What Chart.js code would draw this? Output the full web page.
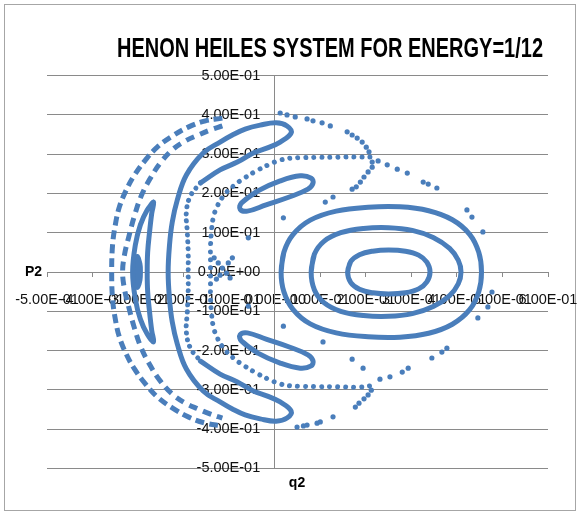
<!DOCTYPE html>
<html>
<head>
<meta charset="utf-8">
<script src="https://cdn.jsdelivr.net/npm/chart.js@4/dist/chart.umd.min.js"></script>
<style>
  html, body { margin: 0; padding: 0; background: #fff; }
  #wrap { width: 580px; height: 512px; position: relative; }
</style>
</head>
<body>
<div id="wrap"><canvas id="c" width="580" height="512"></canvas></div>
<script>
// Henon-Heiles surface of section (q2, p2), E = 1/12

const TITLE = 'HENON HEILES SYSTEM FOR ENERGY=1/12';
const X_TITLE = 'q2';
const Y_TITLE = 'P2';

const xTickLabels = ['-5.00E-01','-4.00E-01','-3.00E-01','-2.00E-01','-1.00E-01','0.00E+00',
                     '1.00E-01','2.00E-01','3.00E-01','4.00E-01','5.00E-01','6.00E-01'];
const yTickLabels = ['-5.00E-01','-4.00E-01','-3.00E-01','-2.00E-01','-1.00E-01','0.00E+00',
                     '1.00E-01','2.00E-01','3.00E-01','4.00E-01','5.00E-01'];

// right island: three nested tori
const rightInner = [[0.160,0.000],[0.167,0.027],[0.186,0.044],[0.215,0.053],[0.250,0.056],[0.287,0.053],
  [0.316,0.043],[0.334,0.025],[0.341,0.000],[0.334,-0.025],[0.316,-0.043],[0.287,-0.053],[0.250,-0.056],
  [0.215,-0.053],[0.186,-0.044],[0.167,-0.027],[0.160,0.000],[0.167,0.027]];

const rightMiddle = [[0.080,0.000],[0.087,0.045],[0.108,0.078],[0.145,0.100],[0.195,0.111],[0.250,0.113],
  [0.302,0.106],[0.348,0.088],[0.384,0.060],[0.403,0.030],[0.409,0.000],[0.403,-0.030],[0.384,-0.060],
  [0.348,-0.088],[0.302,-0.106],[0.250,-0.113],[0.195,-0.111],[0.145,-0.100],[0.108,-0.078],
  [0.087,-0.045],[0.080,0.000],[0.087,0.045]];

const rightOuter = [[0.014,0.000],[0.020,0.050],[0.040,0.095],[0.078,0.132],[0.135,0.155],[0.205,0.165],
  [0.275,0.166],[0.338,0.156],[0.390,0.133],[0.428,0.096],[0.448,0.050],[0.454,0.000],[0.448,-0.050],
  [0.428,-0.096],[0.390,-0.133],[0.338,-0.156],[0.275,-0.166],[0.205,-0.165],[0.135,-0.155],
  [0.078,-0.132],[0.040,-0.095],[0.020,-0.050],[0.014,0.000],[0.020,0.050]];

// small islands above and below the origin
const topIsland = [[-0.073,0.176],[-0.038,0.206],[0.012,0.232],[0.056,0.245],[0.080,0.239],[0.084,0.226],
  [0.073,0.211],[0.032,0.191],[-0.019,0.171],[-0.060,0.155],[-0.076,0.160],[-0.073,0.176],[-0.038,0.206]];
const bottomIsland = [[-0.073,-0.176],[-0.038,-0.206],[0.012,-0.232],[0.056,-0.245],[0.080,-0.239],[0.084,-0.226],
  [0.073,-0.211],[0.032,-0.191],[-0.019,-0.171],[-0.060,-0.155],[-0.076,-0.160],[-0.073,-0.176],[-0.038,-0.206]];

// left island: crescent and its core
const crescent = [[-0.266,0.178],[-0.280,0.158],[-0.295,0.120],[-0.306,0.069],[-0.312,0.000],[-0.306,-0.069],
  [-0.295,-0.120],[-0.280,-0.158],[-0.266,-0.178],[-0.270,-0.150],[-0.275,-0.100],[-0.279,-0.050],
  [-0.280,0.000],[-0.279,0.050],[-0.275,0.100],[-0.270,0.150],[-0.266,0.178],[-0.280,0.158]];
const leftCore = [[-0.302,0.038],[-0.297,0.020],[-0.296,0.000],[-0.297,-0.020],[-0.302,-0.038],
  [-0.307,-0.020],[-0.308,0.000],[-0.307,0.020],[-0.302,0.038],[-0.297,0.020]];

// hooked orbit: back-run from the upper hook, top run, left side, bottom run, lower hook
const hookLoop = [[-0.163,0.227],[-0.120,0.260],[-0.082,0.280],[-0.047,0.303],[-0.016,0.316],[0.012,0.331],
  [0.036,0.354],[0.027,0.372],[0.003,0.380],[-0.032,0.374],[-0.065,0.364],[-0.093,0.349],[-0.120,0.331],
  [-0.157,0.303],[-0.194,0.247],[-0.214,0.183],[-0.225,0.127],[-0.231,0.069],[-0.234,0.000],
  [-0.231,-0.069],[-0.225,-0.127],[-0.214,-0.183],[-0.194,-0.247],[-0.157,-0.303],[-0.120,-0.331],
  [-0.093,-0.349],[-0.065,-0.364],[-0.032,-0.374],[0.003,-0.380],[0.027,-0.372],[0.036,-0.354],
  [0.012,-0.331],[-0.016,-0.316],[-0.047,-0.303],[-0.082,-0.280],[-0.120,-0.260],[-0.163,-0.227]];

// the same orbit's sparser inner side
const innerArc = [[-0.163,0.227],[-0.185,0.194],[-0.194,0.153],[-0.192,0.102],[-0.190,0.051],[-0.190,0.000],
  [-0.190,-0.051],[-0.192,-0.102],[-0.194,-0.153],[-0.185,-0.194],[-0.163,-0.227]];

// separatrix: dotted path from the upper saddle round the left side to the lower saddle
const separatrix = [[0.209,0.293],[0.188,0.293],[0.155,0.293],[0.122,0.292],[0.091,0.292],[0.056,0.291],
  [0.034,0.290],[0.012,0.285],[-0.014,0.273],[-0.041,0.257],[-0.067,0.239],[-0.091,0.219],[-0.111,0.196],
  [-0.126,0.168],[-0.135,0.138],[-0.139,0.102],[-0.141,0.066],[-0.141,0.031],[-0.141,0.000],
  [-0.141,-0.031],[-0.141,-0.066],[-0.139,-0.102],[-0.135,-0.138],[-0.126,-0.168],[-0.111,-0.196],
  [-0.091,-0.219],[-0.067,-0.239],[-0.041,-0.257],[-0.014,-0.273],[0.012,-0.285],[0.034,-0.290],
  [0.056,-0.291],[0.091,-0.292],[0.122,-0.292],[0.155,-0.293],[0.188,-0.293],[0.209,-0.290]];

// outermost broken orbits on the left
const outerDash1 = [[-0.115,0.392],[-0.152,0.385],[-0.190,0.369],[-0.225,0.346],[-0.258,0.318],[-0.284,0.285],
  [-0.308,0.247],[-0.326,0.209],[-0.341,0.166],[-0.350,0.120],[-0.356,0.069],[-0.358,0.000],[-0.356,-0.069],
  [-0.350,-0.120],[-0.341,-0.166],[-0.326,-0.209],[-0.308,-0.247],[-0.284,-0.285],[-0.258,-0.318],
  [-0.225,-0.346],[-0.190,-0.369],[-0.152,-0.385],[-0.115,-0.392]];
const outerDash2 = [[-0.115,0.372],[-0.141,0.362],[-0.168,0.349],[-0.196,0.334],[-0.225,0.311],[-0.251,0.278],
  [-0.273,0.239],[-0.293,0.194],[-0.308,0.143],[-0.321,0.087],[-0.330,0.043],[-0.334,0.000],[-0.330,-0.043],
  [-0.321,-0.087],[-0.308,-0.143],[-0.293,-0.194],[-0.273,-0.239],[-0.251,-0.278],[-0.225,-0.311],
  [-0.196,-0.334],[-0.168,-0.349],[-0.141,-0.362],[-0.115,-0.372]];

// scattered points of the chaotic orbit
const chaos = [
  [0.012,0.405],[0.027,0.400],[0.045,0.395],[0.071,0.390],[0.084,0.385],[0.104,0.380],[0.122,0.372],
  [0.159,0.357],[0.170,0.349],[0.181,0.341],[0.192,0.331],[0.201,0.318],[0.207,0.306],
  [0.214,0.280],[0.214,0.267],[0.205,0.255],[0.196,0.242],[0.188,0.229],[0.179,0.217],[0.170,0.211],
  [0.227,0.283],[0.247,0.273],[0.269,0.262],[0.291,0.252],[0.326,0.229],[0.337,0.224],[0.356,0.214],
  [0.422,0.158],[0.433,0.140],[0.457,0.102],
  [0.477,-0.051],[0.468,-0.089],[0.446,-0.117],
  [0.378,-0.194],[0.367,-0.204],[0.345,-0.219],[0.293,-0.245],[0.280,-0.255],[0.253,-0.267],[0.231,-0.273],
  [0.212,-0.301],[0.205,-0.313],[0.196,-0.323],[0.185,-0.334],[0.177,-0.344],
  [0.194,-0.245],[0.170,-0.222],[0.106,-0.178],
  [0.111,0.178],[0.128,0.191],[0.019,0.138],[-0.058,0.087],[0.019,-0.138],[-0.058,-0.087],
  [0.049,-0.395],[0.063,-0.392],[0.071,-0.390],[0.093,-0.385],[0.100,-0.382],[0.128,-0.369],
  [-0.133,0.036],[-0.124,0.023],[-0.115,0.010],[-0.106,-0.003],[-0.098,-0.015],
  [-0.128,-0.018],[-0.120,-0.008],[-0.102,0.023],[-0.093,0.036]
];

const BLUE = '#4a7ebb';
const GRID = '#8a8a8a';
const TICK_FONT = { family: '"Liberation Sans Narrow", "Liberation Sans", Arial, sans-serif', size: 14.5 };
// gap kept between the value axis line and its labels
const Y_LABEL_GAP = '\u2002\u2002';

function solid(data) {
  return { data, showLine: true, borderColor: BLUE, borderWidth: 5, pointRadius: 0,
           tension: 0.4, borderCapStyle: 'round', borderJoinStyle: 'round', fill: false };
}
function dotted(data, gap) {
  return Object.assign(solid(data), { borderDash: [0.01, gap] });
}
function dashed(data, dash, gap) {
  return Object.assign(solid(data), { borderDash: [dash, gap], borderCapStyle: 'butt' });
}
function dots(data) {
  return { data, showLine: false, pointRadius: 2.6, pointBackgroundColor: BLUE,
           pointBorderWidth: 0, pointHoverRadius: 2.6 };
}

const decor = {
  id: 'decor',
  beforeDraw(chart) {
    const ctx = chart.ctx;
    ctx.save();
    ctx.fillStyle = '#fff';
    ctx.fillRect(0, 0, chart.width, chart.height);
    ctx.strokeStyle = '#a6a6a6';
    ctx.lineWidth = 1;
    ctx.strokeRect(4.5, 4.5, 571, 506);
    ctx.restore();
  },
  afterDraw(chart) {
    const ctx = chart.ctx;
    ctx.save();
    ctx.fillStyle = '#000';
    ctx.font = 'bold 27px "Liberation Sans Narrow", "Liberation Sans", Arial, sans-serif';
    ctx.textBaseline = 'alphabetic';
    ctx.textAlign = 'left';
    const w = ctx.measureText(TITLE).width;
    ctx.translate(117, 57);
    ctx.scale(426 / w, 1);
    ctx.fillText(TITLE, 0, 0);
    ctx.restore();

    ctx.save();
    ctx.fillStyle = '#000';
    ctx.font = 'bold 14px "Liberation Sans Narrow", "Liberation Sans", Arial, sans-serif';
    ctx.textAlign = 'left';
    ctx.textBaseline = 'middle';
    ctx.fillText(Y_TITLE, 25, 272);
    ctx.textAlign = 'center';
    ctx.textBaseline = 'alphabetic';
    ctx.fillText(X_TITLE, 297, 487);
    ctx.restore();
  }
};

// the plot box is fixed by layout padding; edge labels may overhang it
function noEdgePadding(scale) {
  scale.paddingLeft = 0;
  scale.paddingRight = 0;
  scale.paddingTop = 0;
  scale.paddingBottom = 0;
}

new Chart(document.getElementById('c'), {
  type: 'scatter',
  data: {
    datasets: [
      solid(rightInner), solid(rightMiddle), solid(rightOuter),
      solid(topIsland), solid(bottomIsland),
      solid(crescent), Object.assign(solid(leftCore), { borderWidth: 6 }),
      solid(hookLoop), dotted(innerArc, 7),
      dotted(separatrix, 8),
      dashed(outerDash1, 9, 5), dashed(outerDash2, 9, 6),
      dots(chaos)
    ]
  },
  options: {
    responsive: false,
    animation: false,
    devicePixelRatio: 1,
    layout: { padding: { left: 47, right: 32, top: 75.7, bottom: 43.7 } },
    plugins: { legend: { display: false }, tooltip: { enabled: false }, title: { display: false } },
    scales: {
      x: {
        type: 'linear', min: -0.5, max: 0.6,
        position: { y: 0 },
        afterFit: noEdgePadding,
        grid: { drawOnChartArea: false, drawTicks: true, tickLength: 4, color: GRID },
        border: { color: GRID, width: 1 },
        ticks: {
          stepSize: 0.1, autoSkip: false, maxRotation: 0, minRotation: 0,
          padding: 15, color: '#111', font: TICK_FONT,
          callback: (v, i) => xTickLabels[i]
        }
      },
      y: {
        type: 'linear', min: -0.5, max: 0.5,
        position: { x: 0 },
        afterFit: noEdgePadding,
        grid: { drawOnChartArea: true, drawTicks: true, tickLength: 8, color: GRID },
        border: { color: GRID, width: 1 },
        ticks: {
          stepSize: 0.1, autoSkip: false, padding: 4, color: '#111', font: TICK_FONT,
          callback: (v, i) => yTickLabels[i] + Y_LABEL_GAP
        }
      }
    }
  },
  plugins: [decor]
});
</script>
</body>
</html>
